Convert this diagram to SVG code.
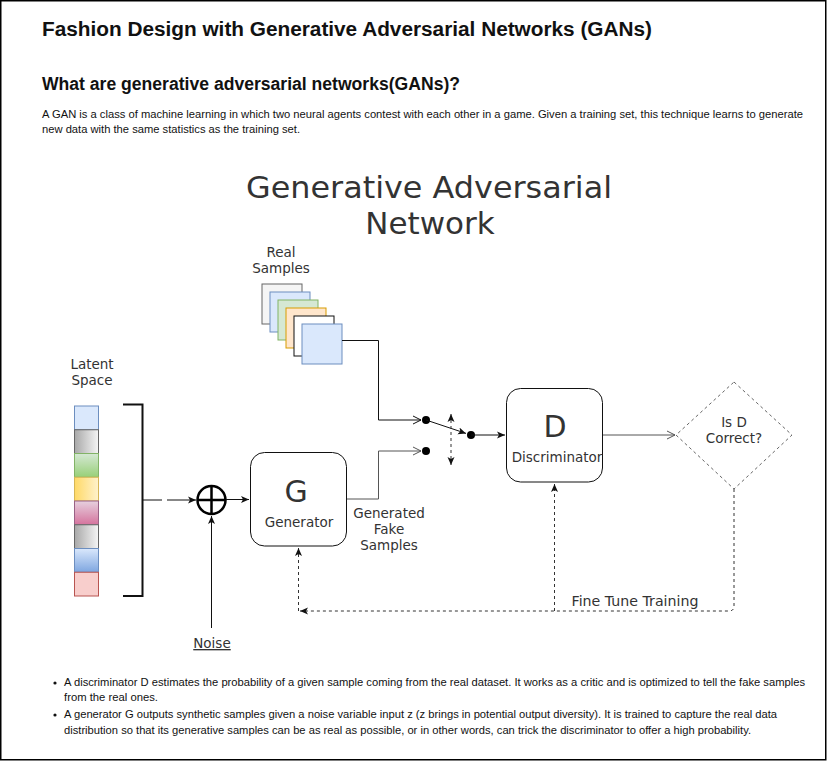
<svg xmlns="http://www.w3.org/2000/svg" width="827" height="761" viewBox="0 0 827 761">
<style>
.page{font-family:"Liberation Sans",Arial,sans-serif;fill:#111}
.h1{font-size:20px;font-weight:bold}
.h2{font-size:18px;font-weight:bold}
.p{font-size:10.5px}
.lbl{font-family:"DejaVu Sans",Verdana,sans-serif;fill:#333;font-size:13.5px;text-anchor:middle}
.big{font-family:"DejaVu Sans",Verdana,sans-serif;fill:#333;font-size:30px;text-anchor:middle}
.ttl{font-family:"DejaVu Sans",Verdana,sans-serif;fill:#333;font-size:31px;text-anchor:middle}
.box{fill:#fff;stroke:#111;stroke-width:1}
.ln{fill:none;stroke:#111;stroke-width:1}
.gl{fill:none;stroke:#555;stroke-width:1}
.dash{fill:none;stroke:#333;stroke-width:1;stroke-dasharray:3 3}
.dot{fill:#000}
</style>
<defs>
<marker id="blk" markerWidth="10" markerHeight="8" refX="8" refY="4" orient="auto" markerUnits="userSpaceOnUse">
<path d="M0,0.5 L8,4 L0,7.5 L2,4 z" fill="#111"/>
</marker>
<marker id="blkS" markerWidth="10" markerHeight="8" refX="8" refY="4" orient="auto-start-reverse" markerUnits="userSpaceOnUse">
<path d="M0,0.5 L8,4 L0,7.5 L2,4 z" fill="#111"/>
</marker>
<marker id="opn" markerWidth="10" markerHeight="10" refX="8" refY="5" orient="auto" markerUnits="userSpaceOnUse">
<path d="M0,1 L8,5 L0,9" fill="none" stroke="#555" stroke-width="1"/>
</marker>
<marker id="opnK" markerWidth="10" markerHeight="10" refX="8" refY="5" orient="auto" markerUnits="userSpaceOnUse">
<path d="M0,1 L8,5 L0,9" fill="none" stroke="#111" stroke-width="1"/>
</marker>
<linearGradient id="gGray" x1="0" y1="0" x2="1" y2="0"><stop offset="0" stop-color="#a8a8a8"/><stop offset="1" stop-color="#f5f5f5"/></linearGradient>
<linearGradient id="gGreen" x1="0" y1="0" x2="0" y2="1"><stop offset="0" stop-color="#d5e8d4"/><stop offset="1" stop-color="#97d077"/></linearGradient>
<linearGradient id="gYel" x1="0" y1="0" x2="1" y2="0"><stop offset="0" stop-color="#ffd966"/><stop offset="1" stop-color="#fff2cc"/></linearGradient>
<linearGradient id="gPink" x1="0" y1="0" x2="0" y2="1"><stop offset="0" stop-color="#e6d0de"/><stop offset="1" stop-color="#d5739d"/></linearGradient>
<linearGradient id="gBlue" x1="0" y1="0" x2="0" y2="1"><stop offset="0" stop-color="#dae8fc"/><stop offset="1" stop-color="#7ea6e0"/></linearGradient>
</defs>

<rect x="0.75" y="0.75" width="825" height="759" fill="#fff" stroke="#000" stroke-width="1.5"/>

<g id="page-text" class="page">
<text class="h1" x="42" y="36" textLength="610" lengthAdjust="spacingAndGlyphs">Fashion Design with Generative Adversarial Networks (GANs)</text>
<text class="h2" x="42" y="90" textLength="418" lengthAdjust="spacingAndGlyphs">What are generative adversarial networks(GANs)?</text>
<text class="p" x="42" y="118" textLength="761" lengthAdjust="spacingAndGlyphs">A GAN is a class of machine learning in which two neural agents contest with each other in a game. Given a training set, this technique learns to generate</text>
<text class="p" x="42" y="133" textLength="258" lengthAdjust="spacingAndGlyphs">new data with the same statistics as the training set.</text>
<circle cx="55" cy="683" r="1.6"/>
<circle cx="55" cy="715" r="1.6"/>
<text class="p" x="64" y="686" textLength="741" lengthAdjust="spacingAndGlyphs">A discriminator D estimates the probability of a given sample coming from the real dataset. It works as a critic and is optimized to tell the fake samples</text>
<text class="p" x="64" y="701" textLength="94" lengthAdjust="spacingAndGlyphs">from the real ones.</text>
<text class="p" x="64" y="718" textLength="713" lengthAdjust="spacingAndGlyphs">A generator G outputs synthetic samples given a noise variable input z (z brings in potential output diversity). It is trained to capture the real data</text>
<text class="p" x="64" y="734" textLength="687" lengthAdjust="spacingAndGlyphs">distribution so that its generative samples can be as real as possible, or in other words, can trick the discriminator to offer a high probability.</text>
</g>

<g id="diagram-title">
<text class="ttl" x="429" y="198" textLength="366" lengthAdjust="spacingAndGlyphs">Generative Adversarial</text>
<text class="ttl" x="430" y="234">Network</text>
</g>

<g id="real-samples">
<text class="lbl" x="281" y="257">Real</text>
<text class="lbl" x="281" y="273">Samples</text>
<rect x="262" y="284" width="40" height="40" fill="#f5f5f5" stroke="#666"/>
<rect x="270" y="292" width="40" height="40" fill="#dae8fc" stroke="#6c8ebf"/>
<rect x="278" y="300" width="40" height="40" fill="#d5e8d4" stroke="#82b366"/>
<rect x="286" y="308" width="40" height="40" fill="#ffe6cc" stroke="#d79b00"/>
<rect x="294" y="316" width="40" height="40" fill="#fff" stroke="#111"/>
<rect x="302" y="324" width="40" height="40" fill="#dae8fc" stroke="#6c8ebf"/>
</g>

<g id="latent-space">
<text class="lbl" x="92" y="369">Latent</text>
<text class="lbl" x="92" y="385">Space</text>
<rect x="74.5" y="406" width="24" height="23.75" fill="#dae8fc" stroke="#6c8ebf"/>
<rect x="74.5" y="429.75" width="24" height="23.75" fill="url(#gGray)" stroke="#666"/>
<rect x="74.5" y="453.5" width="24" height="23.75" fill="url(#gGreen)" stroke="#82b366"/>
<rect x="74.5" y="477.25" width="24" height="23.75" fill="url(#gYel)" stroke="#d6b656"/>
<rect x="74.5" y="501" width="24" height="23.75" fill="url(#gPink)" stroke="#996185"/>
<rect x="74.5" y="524.75" width="24" height="23.75" fill="url(#gGray)" stroke="#666"/>
<rect x="74.5" y="548.5" width="24" height="23.75" fill="url(#gBlue)" stroke="#6c8ebf"/>
<rect x="74.5" y="572.25" width="24" height="23.75" fill="#f8cecc" stroke="#b85450"/>
<path d="M123,404.5 H142.5 V596 H123" fill="none" stroke="#111" stroke-width="2"/>
</g>

<g id="sum">
<circle cx="211.5" cy="500" r="14" fill="#fff" stroke="#000" stroke-width="2.5"/>
<path d="M197.5,500 H225.5 M211.5,486 V514" stroke="#000" stroke-width="2.5"/>
</g>

<g id="noise">
<text class="lbl" x="212" y="648" text-decoration="underline">Noise</text>
</g>

<g id="generator">
<rect class="box" x="250.5" y="452.5" width="96" height="93.5" rx="14"/>
<text class="big" x="296" y="502">G</text>
<text class="lbl" x="299" y="527">Generator</text>
</g>

<g id="fake-label">
<text class="lbl" x="389" y="518">Generated</text>
<text class="lbl" x="389" y="534">Fake</text>
<text class="lbl" x="389" y="550">Samples</text>
</g>

<g id="switch">
<circle class="dot" cx="426" cy="420" r="4"/>
<circle class="dot" cx="426" cy="451" r="4"/>
<circle class="dot" cx="471" cy="435" r="4"/>
</g>

<g id="discriminator">
<rect class="box" x="506.5" y="388.5" width="96" height="93.5" rx="14"/>
<text class="big" x="555" y="437">D</text>
<text class="lbl" x="557" y="462">Discriminator</text>
</g>

<g id="decision">
<polygon points="734,382 792,435 734,489 676,435" fill="#fff" stroke="#666" stroke-dasharray="3 3"/>
<text class="lbl" x="734" y="427">Is D</text>
<text class="lbl" x="734" y="443">Correct?</text>
</g>

<g id="fine-tune-label">
<text class="lbl" x="635" y="606" textLength="127" lengthAdjust="spacingAndGlyphs">Fine Tune Training</text>
</g>

<g id="connectors">
<path class="ln" d="M342,340.5 H378.5 V420 H421" marker-end="url(#opnK)"/>
<path class="gl" d="M347,499 H378.5 V451 H421" marker-end="url(#opn)"/>
<path class="ln" d="M426,420 L466,433.4" marker-end="url(#blk)"/>
<path class="ln" d="M471,435 H505" marker-end="url(#blk)"/>
<path class="dash" d="M451,414 V465" marker-start="url(#blkS)" marker-end="url(#blkS)"/>
<path class="gl" d="M603,435 H675" marker-end="url(#opn)"/>
<path class="dash" d="M734,489 V606 Q734,611 729,611 H300" marker-end="url(#blk)"/>
<path class="dash" d="M298.5,611 V548" marker-end="url(#blk)"/>
<path class="dash" d="M554.5,611 V484" marker-end="url(#blk)"/>
<path class="ln" d="M211.5,628 V516" marker-end="url(#blk)"/>
<path class="ln" d="M142.5,500 H162"/>
<path class="ln" d="M167,500 H196" marker-end="url(#blk)"/>
<path class="ln" d="M226,499.5 H249" marker-end="url(#blk)"/>
</g>
</svg>
